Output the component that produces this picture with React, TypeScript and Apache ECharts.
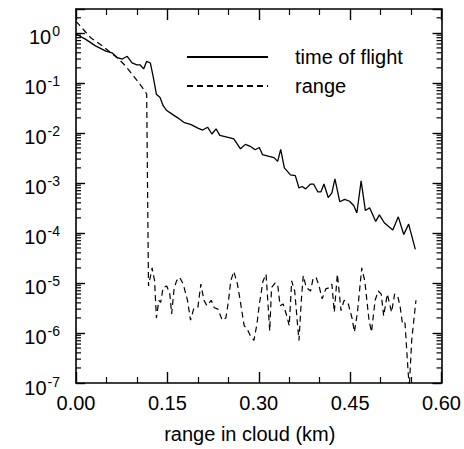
import React, { useEffect, useRef } from "react";
import * as echarts from "echarts";

// time of flight (solid)
const tofX = [0.000, 0.016, 0.032, 0.049, 0.059, 0.068, 0.076, 0.084, 0.092, 0.100, 0.105, 0.111, 0.116, 0.122, 0.127, 0.132, 0.138, 0.143, 0.149, 0.157, 0.167, 0.178, 0.189, 0.200, 0.208, 0.216, 0.223, 0.230, 0.236, 0.248, 0.259, 0.270, 0.278, 0.286, 0.294, 0.301, 0.306, 0.317, 0.325, 0.331, 0.336, 0.342, 0.352, 0.360, 0.366, 0.371, 0.377, 0.385, 0.390, 0.397, 0.402, 0.407, 0.414, 0.420, 0.425, 0.433, 0.441, 0.449, 0.456, 0.461, 0.468, 0.475, 0.482, 0.492, 0.498, 0.506, 0.520, 0.529, 0.538, 0.546, 0.557];
const tofY = [0.95, 0.74, 0.55, 0.43, 0.40, 0.32, 0.30, 0.34, 0.25, 0.23, 0.23, 0.19, 0.27, 0.25, 0.128, 0.059, 0.051, 0.035, 0.028, 0.024, 0.020, 0.016, 0.0146, 0.0125, 0.0114, 0.013, 0.0095, 0.012, 0.0089, 0.0082, 0.0076, 0.0048, 0.0059, 0.0054, 0.0046, 0.0051, 0.0037, 0.0034, 0.0032, 0.0027, 0.0047, 0.0020, 0.00145, 0.0014, 0.00079, 0.00085, 0.00076, 0.00095, 0.00095, 0.00066, 0.00066, 0.00095, 0.00051, 0.00063, 0.0012, 0.00042, 0.00047, 0.00043, 0.00035, 0.00025, 0.0011, 0.00028, 0.00032, 0.00017, 0.00023, 0.00016, 0.000115, 0.00021, 0.000093, 0.00015, 0.000047];

// range (dashed)
const rangeX = [0.000, 0.005, 0.024, 0.043, 0.057, 0.070, 0.081, 0.094, 0.105, 0.113, 0.116, 0.119, 0.125, 0.129, 0.132, 0.136, 0.139, 0.143, 0.149, 0.154, 0.157, 0.161, 0.165, 0.170, 0.176, 0.183, 0.188, 0.193, 0.200, 0.205, 0.210, 0.215, 0.222, 0.227, 0.233, 0.240, 0.246, 0.250, 0.254, 0.259, 0.265, 0.270, 0.276, 0.281, 0.286, 0.292, 0.297, 0.301, 0.307, 0.312, 0.318, 0.321, 0.327, 0.331, 0.335, 0.340, 0.346, 0.350, 0.354, 0.359, 0.363, 0.366, 0.370, 0.373, 0.378, 0.385, 0.389, 0.394, 0.399, 0.404, 0.410, 0.416, 0.420, 0.424, 0.429, 0.435, 0.440, 0.447, 0.453, 0.457, 0.462, 0.469, 0.474, 0.481, 0.485, 0.491, 0.496, 0.501, 0.505, 0.511, 0.518, 0.523, 0.528, 0.532, 0.536, 0.540, 0.545, 0.547, 0.551, 0.558];
const rangeY = [1.7, 1.46, 0.8, 0.55, 0.40, 0.30, 0.22, 0.14, 0.093, 0.069, 0.06, 8.7e-6, 2.0e-5, 1.1e-5, 2.0e-6, 4.5e-6, 4.1e-6, 8.1e-6, 8.7e-6, 6.0e-6, 2.4e-6, 7.6e-6, 1.1e-5, 1.3e-5, 9.5e-6, 4.5e-6, 1.8e-6, 3.0e-6, 3.2e-6, 9.5e-6, 4.5e-6, 3.5e-6, 4.5e-6, 3.2e-6, 3.0e-6, 1.8e-6, 2.0e-6, 4.1e-6, 1.1e-5, 1.7e-5, 9.5e-6, 4.1e-6, 1.4e-6, 1.2e-6, 8.9e-7, 7.1e-7, 1.5e-6, 3.8e-6, 1.1e-5, 1.5e-5, 1.1e-6, 8.1e-6, 1.0e-5, 9.5e-6, 3.5e-6, 3.8e-6, 2.2e-6, 1.4e-6, 1.1e-5, 6.9e-6, 1.8e-6, 7.1e-7, 4.8e-6, 1.4e-5, 8.1e-6, 6.9e-6, 1.2e-5, 1.3e-5, 8.7e-6, 4.8e-6, 7.6e-6, 8.1e-6, 9.5e-6, 2.6e-6, 1.5e-5, 2.8e-6, 4.5e-6, 3.8e-6, 2.0e-6, 1.05e-6, 2.6e-6, 2.0e-5, 1.1e-5, 1.8e-6, 1.05e-6, 4.5e-6, 6.9e-6, 6.0e-6, 2.2e-6, 6.0e-6, 2.6e-6, 6.0e-6, 5.5e-6, 3.4e-6, 1.5e-6, 1.6e-6, 1.8e-7, 8e-8, 7.1e-7, 4.5e-6];

const seriesNames = ["time of flight", "range"];
const xTickLabels = [0, 0.15, 0.3, 0.45, 0.6];
const yDecades = [-7, -6, -5, -4, -3, -2, -1, 0];
const yMinorMultipliers = [2, 3, 4, 5, 6, 7, 8, 9];
const Y_MIN = 1e-7;
const Y_MAX = 3;

const FONT = "'Liberation Sans', Arial, Helvetica, sans-serif";

export default function App() {
  const ref = useRef<HTMLDivElement>(null);

  useEffect(() => {
    if (!ref.current) return;
    const chart = echarts.init(ref.current, undefined, { renderer: "svg" });

    const tofData = tofX.map((x, i) => [x, tofY[i]]);
    const rangeData = rangeX.map((x, i) => [x, rangeY[i]]);
    const minorTicks: number[][] = [];
    yDecades.forEach((e) => {
      yMinorMultipliers.forEach((k) => {
        const v = k * Math.pow(10, e);
        if (v < Y_MAX) minorTicks.push([0, v]);
      });
    });

    const axisLineStyle = { color: "#000", width: 1.6 };
    const xCommon = {
      type: "value" as const,
      min: xTickLabels[0],
      max: xTickLabels[xTickLabels.length - 1],
      interval: 0.15,
      splitLine: { show: false },
      axisLine: { show: true, onZero: false, lineStyle: axisLineStyle },
      axisTick: { show: true, inside: true, length: 11, lineStyle: { color: "#000", width: 1.4 } },
      minorTick: { show: true, splitNumber: 3, length: 6, lineStyle: { color: "#000", width: 1.2 } },
    };
    const yCommon = {
      type: "log" as const,
      logBase: 10,
      min: Y_MIN,
      max: Y_MAX,
      splitNumber: 8,
      splitLine: { show: false },
      axisLine: { show: true, onZero: false, lineStyle: axisLineStyle },
      axisTick: { show: true, inside: true, length: 9, lineStyle: { color: "#000", width: 1.4 } },
    };

    chart.setOption({
      animation: false,
      backgroundColor: "#fff",
      textStyle: { fontFamily: FONT, color: "#000" },
      grid: { left: 76, top: 9, right: 18, bottom: 62, containLabel: false },
      legend: {
        orient: "vertical",
        left: 186,
        top: 46,
        padding: 0,
        itemWidth: 81,
        itemHeight: 14,
        itemGap: 7,
        itemStyle: { opacity: 0 },
        data: seriesNames,
        textStyle: { fontSize: 20, lineHeight: 22, color: "#000", fontFamily: FONT, padding: [0, 0, 0, 22] },
      },
      xAxis: [
        {
          ...xCommon,
          position: "bottom",
          name: "range in cloud (km)",
          nameLocation: "middle",
          nameGap: 41,
          nameTextStyle: { fontSize: 20, color: "#000", fontFamily: FONT, padding: [0, 18, 0, 0] },
          axisLabel: {
            show: true,
            margin: 10,
            fontSize: 20,
            color: "#000",
            fontFamily: FONT,
            formatter: (v: number) => v.toFixed(2),
          },
        },
        { ...xCommon, position: "top", axisLabel: { show: false } },
      ],
      yAxis: [
        {
          ...yCommon,
          position: "left",
          axisLabel: {
            show: true,
            margin: 16,
            color: "#000",
            fontFamily: FONT,
            formatter: (v: number) => {
              const l = Math.log10(v);
              const e = Math.round(l);
              if (Math.abs(l - e) > 0.01) return "";
              return `{b|10}{s|${e}}`;
            },
            rich: {
              b: { fontSize: 20, lineHeight: 20, padding: [9, 0, 0, 0], fontFamily: FONT, color: "#000" },
              s: { fontSize: 14, lineHeight: 14, padding: [0, 0, 3, 1], fontFamily: FONT, color: "#000" },
            },
          },
        },
        { ...yCommon, position: "right", axisLabel: { show: false } },
      ],
      series: [
        {
          name: seriesNames[0],
          type: "line",
          data: tofData,
          symbol: "none",
          showSymbol: false,
          lineStyle: { color: "#000", width: 1.3, type: "solid" },
          itemStyle: { color: "#000" },
          xAxisIndex: 0,
          yAxisIndex: 0,
        },
        {
          name: seriesNames[1],
          type: "line",
          data: rangeData,
          symbol: "none",
          showSymbol: false,
          lineStyle: { color: "#000", width: 1.2, type: [6, 4] },
          itemStyle: { color: "#000" },
          xAxisIndex: 0,
          yAxisIndex: 0,
        },
        {
          name: "minorTicks",
          type: "custom",
          xAxisIndex: 0,
          yAxisIndex: 0,
          silent: true,
          clip: false,
          data: minorTicks,
          renderItem: (params: any, api: any) => {
            const pt = api.coord([0, api.value(1)]);
            const cs = params.coordSys;
            return {
              type: "group",
              children: [
                { type: "line", shape: { x1: cs.x, y1: pt[1], x2: cs.x + 5, y2: pt[1] }, style: { stroke: "#000", lineWidth: 1.2 } },
                { type: "line", shape: { x1: cs.x + cs.width, y1: pt[1], x2: cs.x + cs.width - 5, y2: pt[1] }, style: { stroke: "#000", lineWidth: 1.2 } },
              ],
            };
          },
        },
      ],
    });

    return () => chart.dispose();
  }, []);

  return <div ref={ref} style={{ position: "fixed", left: 0, top: 0, width: 464, height: 449 }} />;
}
